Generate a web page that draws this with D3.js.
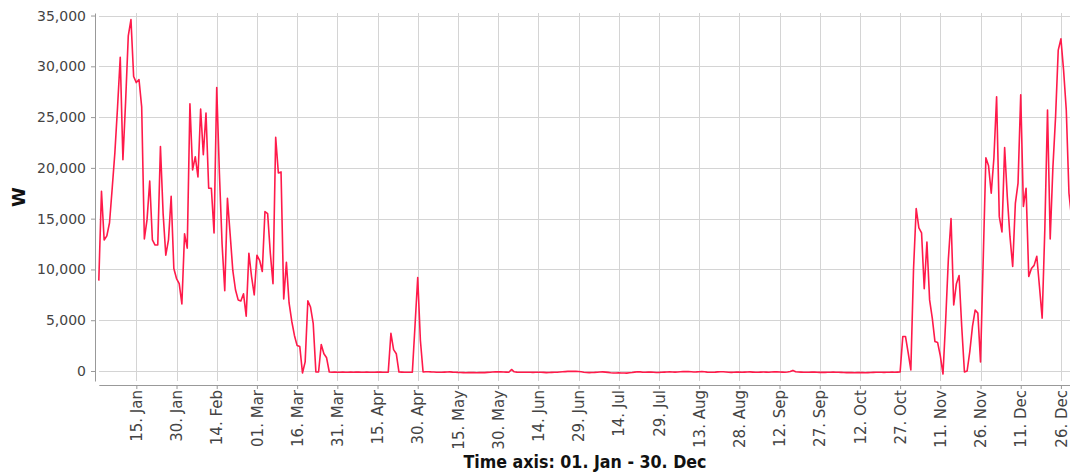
<!DOCTYPE html>
<html><head><meta charset="utf-8">
<script src="https://cdn.jsdelivr.net/npm/d3@7"></script>
<style>
body{margin:0;background:#fff;}
svg{display:block;font-family:"DejaVu Sans",sans-serif;}
</style>
</head><body>
<svg id="chart" width="1070" height="474"></svg>
<script>
// ---- data ----
const startDate = "2023-01-01";   // first sample (01. Jan), one value per day
const values = [
  8900, 17700, 12900, 13300, 14600, 18000, 21500, 26000, 30900, 20800,
  26500, 33000, 34600, 29000, 28400, 28700, 26000, 13000, 14900, 18700,
  12900, 12400, 12400, 22100, 15500, 11400, 12900, 17200, 10100, 9100,
  8600, 6600, 13500, 12100, 26300, 19800, 21100, 19100, 25800, 21300,
  25400, 18000, 18000, 13600, 27900, 19500, 12500, 7900, 17000, 13500,
  9900, 8000, 7000, 6900, 7600, 5400, 11600, 9300, 7500, 11400,
  10900, 9800, 15700, 15500, 11600, 8600, 23000, 19500, 19600, 7100,
  10700, 6700, 4900, 3500, 2500, 2400, -200, 900, 6900, 6300,
  4700, -100, -100, 2600, 1700, 1300, -100, -120, -110, -130,
  -120, -100, -120, -130, -110, -120, -100, -110, -130, -120,
  -110, -120, -130, -120, -100, -110, -120, -130, -110, 3700,
  2100, 1700, -100, -110, -120, -130, -120, -110, 4500, 9200,
  3000, -100, -80, -70, -90, -100, -120, -130, -120, -110,
  -100, -90, -110, -120, -140, -150, -160, -170, -160, -150,
  -160, -170, -160, -150, -160, -140, -120, -100, -90, -80,
  -90, -100, -110, -120, 150, -80, -110, -120, -130, -130,
  -120, -130, -140, -130, -120, -130, -140, -160, -150, -140,
  -130, -120, -100, -80, -60, -40, -30, -40, -30, -50,
  -80, -120, -150, -160, -150, -140, -120, -100, -90, -110,
  -140, -170, -190, -200, -180, -200, -190, -210, -180, -150,
  -110, -80, -90, -120, -130, -110, -100, -120, -150, -140,
  -120, -110, -100, -90, -100, -110, -100, -80, -60, -50,
  -60, -80, -100, -90, -70, -60, -80, -110, -130, -120,
  -110, -90, -70, -80, -100, -120, -140, -130, -110, -100,
  -120, -110, -100, -90, -110, -130, -120, -110, -100, -110,
  -120, -100, -90, -80, -100, -110, -120, -100, -50, 60,
  -80, -100, -110, -120, -130, -120, -110, -100, -120, -140,
  -130, -140, -130, -120, -110, -120, -130, -140, -150, -160,
  -150, -160, -170, -160, -150, -160, -170, -160, -150, -140,
  -130, -120, -130, -140, -130, -120, -110, -120, -110, -100,
  3400, 3400, 1800, 100, 10000, 16000, 14100, 13600, 8100, 12700,
  7000, 5200, 2900, 2800, 1500, -300, 5000, 11000, 15000, 6500,
  8600, 9400, 4300, -100, 0, 1900, 4400, 6000, 5700, 900,
  10900, 21000, 20200, 17500, 21000, 27000, 15200, 13700, 22000, 17100,
  13200, 10300, 16500, 18500, 27200, 16200, 18000, 9300, 10100, 10400,
  11300, 8300, 5200, 14000, 25700, 13000, 20000, 25000, 31600, 32700,
  29600, 25700, 17500, 15000
];
const tickLabels = [
  "15. Jan", "30. Jan", "14. Feb", "01. Mar", "16. Mar", "31. Mar",
  "15. Apr", "30. Apr", "15. May", "30. May", "14. Jun", "29. Jun",
  "14. Jul", "29. Jul", "13. Aug", "28. Aug", "12. Sep", "27. Sep",
  "12. Oct", "27. Oct", "11. Nov", "26. Nov", "11. Dec", "26. Dec"
];
const yTicks = [0, 5000, 10000, 15000, 20000, 25000, 30000, 35000];
const xTitle = "Time axis: 01. Jan - 30. Dec";
const yTitle = "W";

// ---- chart ----
const svg = d3.select("#chart");
const start = d3.utcParse("%Y-%m-%d")(startDate);
const dates = values.map((v, i) => d3.utcDay.offset(start, i));
const parseTick = d3.utcParse("%d. %b %Y");
const tickDates = tickLabels.map(s => parseTick(s + " " + start.getUTCFullYear()));

const plotLeft = 99, plotTop = 13, plotBottom = 381, plotRight = 1070;
const pxPerDay = 2.68, x0 = 98.8;

const x = d3.scaleUtc()
  .domain([dates[0], dates[dates.length - 1]])
  .range([x0, x0 + (dates.length - 1) * pxPerDay]);
const y = d3.scaleLinear().domain([-985, 35250]).range([plotBottom, plotTop]);

const gridColor = "#d4d4d4", axisColor = "#999", labelColor = "#444";

// grid
svg.append("g").selectAll("line").data(yTicks).join("line")
  .attr("x1", plotLeft).attr("x2", plotRight)
  .attr("y1", d => Math.round(y(d)) + 0.5).attr("y2", d => Math.round(y(d)) + 0.5)
  .attr("stroke", gridColor).attr("stroke-width", 1);
svg.append("g").selectAll("line").data(tickDates).join("line")
  .attr("y1", plotTop).attr("y2", plotBottom)
  .attr("x1", d => Math.round(x(d)) + 0.5).attr("x2", d => Math.round(x(d)) + 0.5)
  .attr("stroke", gridColor).attr("stroke-width", 1);

// y axis
const yAxis = svg.append("g").attr("transform", "translate(95,0)")
  .call(d3.axisLeft(y).tickValues(yTicks).tickSize(4).tickSizeOuter(0).tickPadding(5)
    .tickFormat(d3.format(",")));
yAxis.select(".domain").attr("stroke", axisColor);
yAxis.selectAll(".tick line").attr("stroke", axisColor);
yAxis.selectAll("text").attr("fill", labelColor).style("font-size", "14px")
  .style("font-family", "'DejaVu Sans', sans-serif");

// x axis
const xAxis = svg.append("g").attr("transform", "translate(0,385)")
  .call(d3.axisBottom(x).tickValues(tickDates).tickSize(4).tickSizeOuter(0)
    .tickFormat((d, i) => tickLabels[i]));
xAxis.select(".domain").attr("stroke", axisColor);
xAxis.selectAll(".tick line").attr("stroke", axisColor);
xAxis.selectAll("text")
  .attr("fill", labelColor).style("font-size", "15px")
  .style("font-family", "'DejaVu Sans', sans-serif")
  .attr("text-anchor", "end")
  .attr("x", -5).attr("y", 0).attr("dy", "0.35em")
  .attr("transform", "rotate(-90)");

// line
svg.append("path")
  .datum(values)
  .attr("fill", "none")
  .attr("stroke", "#ff1a4a")
  .attr("stroke-width", 1.6)
  .attr("stroke-linejoin", "round")
  .attr("d", d3.line().x((v, i) => x(dates[i])).y(v => y(v)));

// titles
svg.append("text")
  .attr("x", 585).attr("y", 468)
  .attr("text-anchor", "middle")
  .attr("textLength", 243).attr("lengthAdjust", "spacingAndGlyphs")
  .style("font-size", "18px").style("font-weight", "bold").attr("fill", "#111")
  .text(xTitle);
svg.append("text")
  .attr("transform", "translate(25,197) rotate(-90)")
  .attr("text-anchor", "middle")
  .style("font-size", "18px").style("font-weight", "bold").attr("fill", "#111")
  .text(yTitle);
</script>
</body></html>
